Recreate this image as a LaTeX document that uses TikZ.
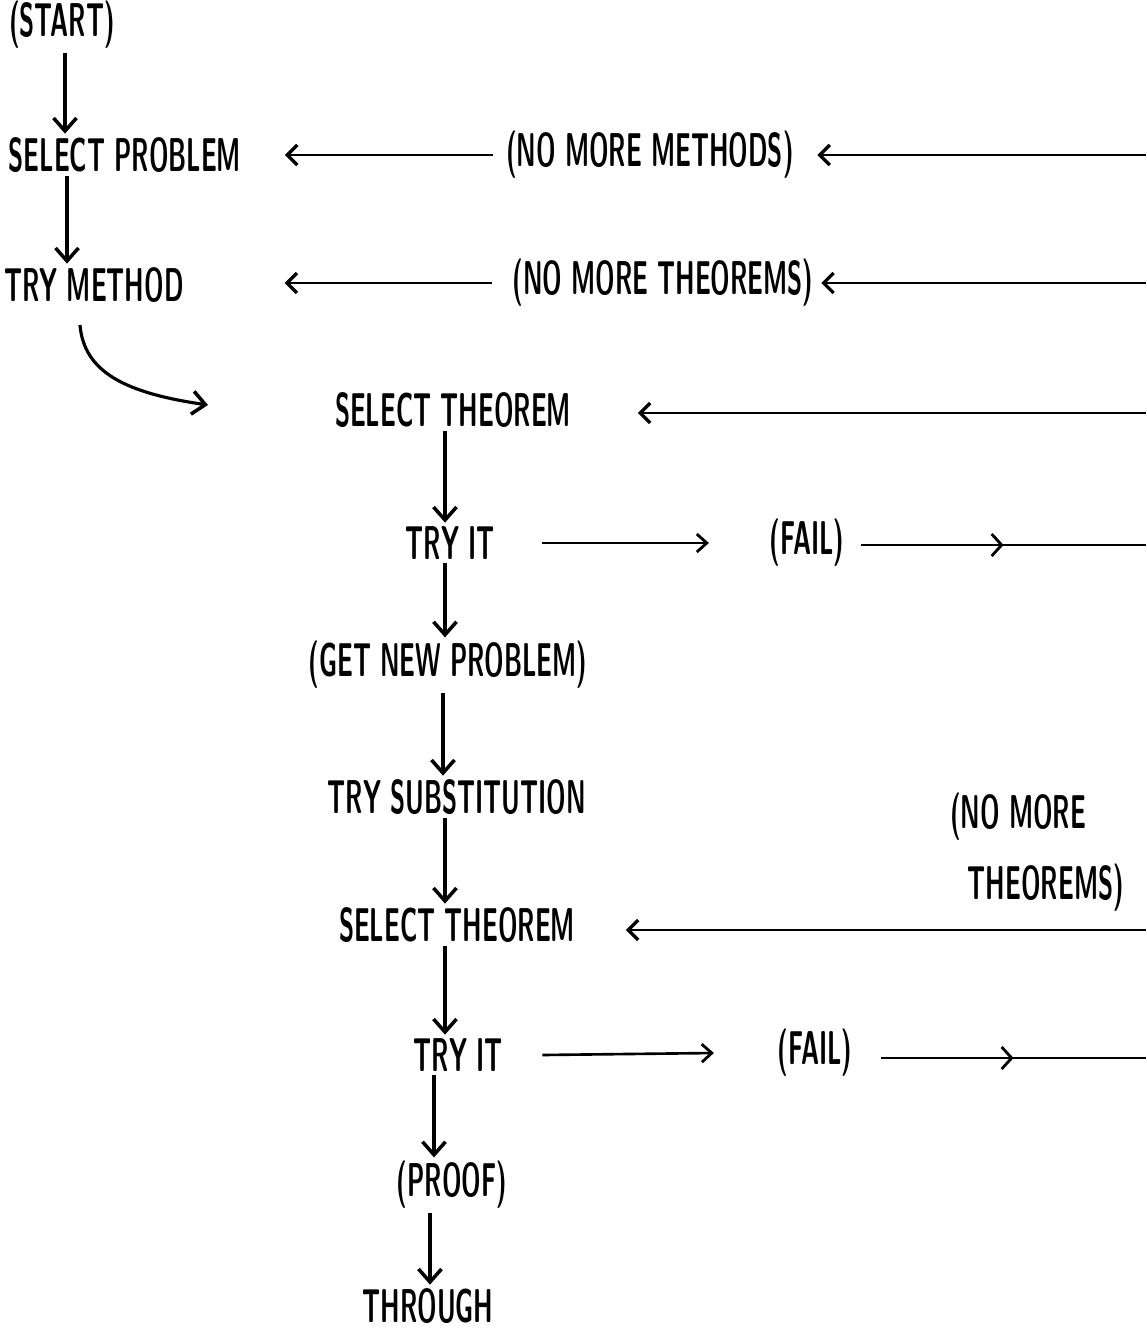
\documentclass[tikz,border=0pt]{standalone}
\usepackage{graphicx}
\usetikzlibrary{arrows.meta,decorations.markings,calc}
\newcommand{\cond}[1]{\scalebox{0.52}[1]{#1}}

\begin{document}
\begin{tikzpicture}[x=0.02cm,y=-0.02cm,
  lbl/.style={font=\sffamily\bfseries\fontsize{27}{32}\selectfont,inner sep=2pt},
  down/.style={line width=2pt,-{Straight Barb[length=2.6mm,width=4.6mm,line width=2pt]}},
  side/.style={line width=1.5pt,-{Straight Barb[length=2mm,width=3.6mm,line width=1.6pt]}},
  back/.style={line width=1.5pt,-{Straight Barb[length=2mm,width=4mm,line width=1.9pt]}},
  midarrow/.style={line width=1.5pt,postaction={decorate},
    decoration={markings,mark=at position 0.5 with {\arrow{Straight Barb[length=2mm,width=4.4mm,line width=1.6pt]}}}}
]
\useasboundingbox (0,0) rectangle (1146,1331);

% left column
\node[lbl] (start) at (62,25) {\cond{(START)}};
\node[lbl] (selprob) at (125,155) {\cond{SELECT PROBLEM}};
\node[lbl] (trymeth) at (94,285) {\cond{TRY METHOD}};
\node[lbl] (nomm) at (650,155) {\cond{(NO MORE METHODS)}};
\node[lbl] (nomt) at (663,283) {\cond{(NO MORE THEOREMS)}};

% main column
\node[lbl] (selthm) at (453,410) {\cond{SELECT THEOREM}};
\node[lbl] (tryit) at (450,543) {\cond{TRY IT}};
\node[lbl] (fail) at (807,543) {\cond{(FAIL)}};
\node[lbl] (getnew) at (448,665) {\cond{(GET NEW PROBLEM)}};
\node[lbl] (trysub) at (457,797) {\cond{TRY SUBSTITUTION}};
\node[lbl] (selthmb) at (457,925) {\cond{SELECT THEOREM}};
\node[lbl,align=left] (nomtb) at (1037,852)
  {\cond{(NO MORE}\\[8pt]\hspace*{10pt}\cond{THEOREMS)}};
\node[lbl] (tryitb) at (458,1055) {\cond{TRY IT}};
\node[lbl] (failb) at (815,1053) {\cond{(FAIL)}};
\node[lbl] (proof) at (452,1185) {\cond{(PROOF)}};
\node[lbl] (through) at (428,1306) {\cond{THROUGH}};

% loose ends at the right edge
\coordinate (ra) at (1146,155);
\coordinate (rb) at (1146,283);
\coordinate (rc) at (1146,413);
\coordinate (rd) at (1146,545);
\coordinate (re) at (1146,930);
\coordinate (rf) at (1146,1058);
\coordinate (cva) at (80,325);
\coordinate (cvb) at (208,405);

\draw[down] ($(start.south)+(3,0)$) -- ($(start.south |- selprob.north)+(3,0)$);
\draw[down] ($(selprob.south -| start)+(5,0)$) -- ($(trymeth.north -| start)+(5,0)$);
\draw[down,line width=1.8pt] (cva) .. controls (84,372) and (125,393) .. (cvb);
\draw[down] ($(selthm.south)+(-8,0)$) -- ($(selthm.south |- tryit.north)+(-8,0)$);
\draw[down] ($(tryit.south)+(-5,0)$) -- ($(tryit.south |- getnew.north)+(-5,0)$);
\draw[down] ($(getnew.south)+(-5,0)$) -- ($(getnew.south |- trysub.north)+(-5,0)$);
\draw[down] ($(trysub.south)+(-12,0)$) -- ($(trysub.south |- selthmb.north)+(-12,0)$);
\draw[down] ($(selthmb.south)+(-12,0)$) -- ($(selthmb.south |- tryitb.north)+(-12,0)$);
\draw[down] ($(tryitb.south)+(-24,0)$) -- ($(tryitb.south |- proof.north)+(-24,0)$);
\draw[down] ($(proof.south)+(-22,0)$) -- ($(proof.south |- through.north)+(-22,0)$);

\draw[back] ($(nomm.west)+(-10,0)$) -- ($(selprob.east)+(40,0)$);
\draw[back] (ra) -- ($(nomm.east)+(20,0)$);
\draw[back] ($(nomt.west)+(-17,0)$) -- ($(trymeth.east |- nomt)+(97,0)$);
\draw[back] (rb) -- ($(nomt.east)+(4,0)$);
\draw[back] (rc) -- ($(selthm.east |- rc)+(63,0)$);
\draw[side] ($(tryit.east)+(44,0)$) -- ($(fail.west)+(-57,0)$);
\draw[midarrow] ($(fail.east |- rd)+(13,0)$) -- (rd);
\draw[back] (re) -- ($(selthmb.east |- re)+(47,0)$);
\draw[side] ($(tryitb.east)+(36,0)$) -- ($(failb.west)+(-60,0)$);
\draw[midarrow] ($(failb.east |- rf)+(25,0)$) -- (rf);
\end{tikzpicture}
\end{document}
